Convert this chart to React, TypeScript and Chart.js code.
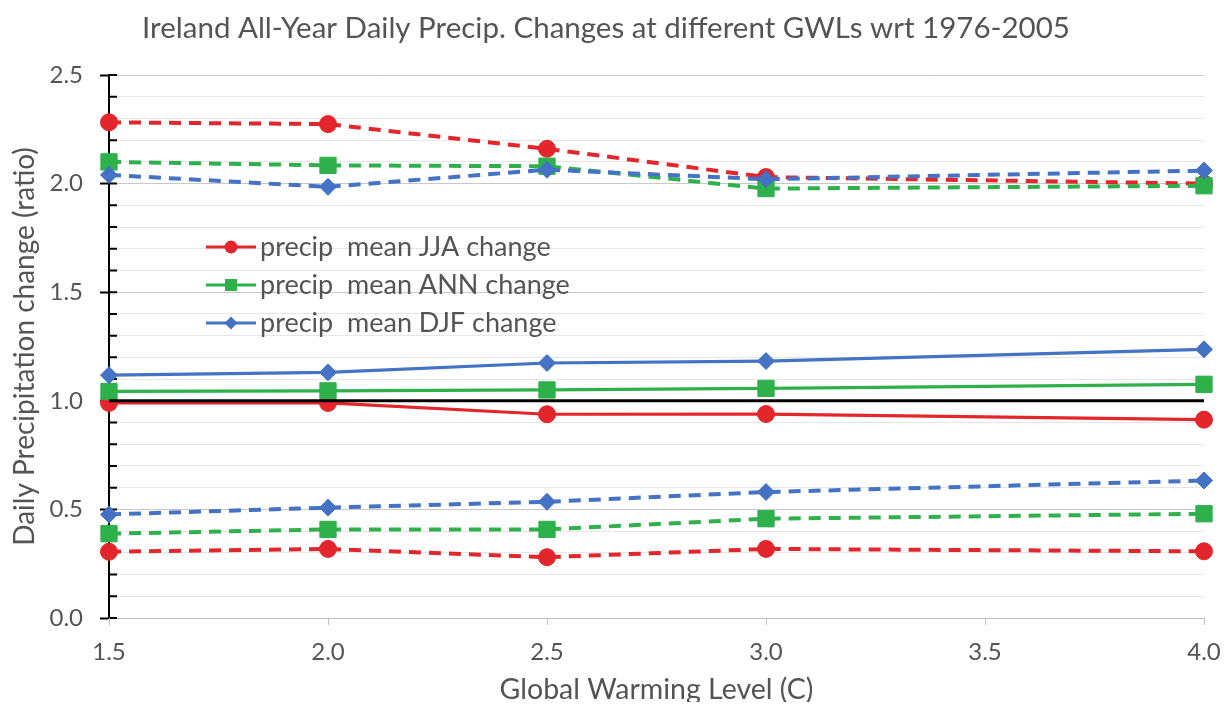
import React, { useEffect, useRef } from 'react';
import { Chart, registerables } from 'chart.js';
import { drawPoint } from 'chart.js/helpers';

Chart.register(...registerables);

// ---- data ----
const gwl = [1.5, 2.0, 2.5, 3.0, 4.0];
const jjaMean = [0.99, 0.99, 0.938, 0.939, 0.913];
const annMean = [1.043, 1.046, 1.05, 1.057, 1.076];
const djfMean = [1.118, 1.131, 1.174, 1.183, 1.237];
const jjaHigh = [2.282, 2.274, 2.16, 2.03, 2.0];
const annHigh = [2.1, 2.084, 2.08, 1.977, 1.99];
const djfHigh = [2.04, 1.985, 2.064, 2.02, 2.06];
const jjaLow = [0.305, 0.318, 0.28, 0.318, 0.307];
const annLow = [0.388, 0.408, 0.408, 0.457, 0.48];
const djfLow = [0.477, 0.508, 0.535, 0.58, 0.633];
const refX = [1.5, 4.0];
const refY = [1.0, 1.0];
const seriesLabels = ['precip  mean JJA change', 'precip  mean ANN change', 'precip  mean DJF change'];
const titleText = 'Ireland All-Year Daily Precip. Changes at different GWLs wrt 1976-2005';
const xTitle = 'Global Warming Level (C)';
const yTitle = 'Daily Precipitation change (ratio)';

const RED = '#E3262B';
const GREEN = '#2EB04B';
const BLUE = '#4472C4';
const TEXT = '#545454';
const FONT = 'Lato';

const isMajor = (v: number) => Math.abs(v * 2 - Math.round(v * 2)) < 1e-6;

const axisTicks = {
  id: 'axisTicks',
  beforeDatasetsDraw(chart: any) {
    const { ctx, chartArea } = chart;
    const ys = chart.scales.y;
    const xs = chart.scales.x;
    ctx.save();
    // inner minor/major ticks on the y axis
    ctx.strokeStyle = '#000';
    ctx.lineWidth = 2;
    ctx.beginPath();
    ys.ticks.forEach((t: any) => {
      const py = ys.getPixelForValue(t.value);
      ctx.moveTo(chartArea.left, py);
      ctx.lineTo(chartArea.left + 8, py);
    });
    ctx.stroke();
    // short grey ticks below the x axis
    ctx.strokeStyle = '#bfbfbf';
    ctx.lineWidth = 1;
    ctx.beginPath();
    xs.ticks.forEach((t: any) => {
      const px = Math.round(xs.getPixelForValue(t.value)) + 0.5;
      ctx.moveTo(px, chartArea.bottom);
      ctx.lineTo(px, chartArea.bottom + 7);
    });
    ctx.stroke();
    ctx.restore();
  },
};

let legendSets: any[] = [];

const insideLegend = {
  id: 'insideLegend',
  afterDraw(chart: any) {
    const { ctx, chartArea } = chart;
    ctx.save();
    legendSets.forEach((d: any, i: number) => {
      const y = chartArea.top + 172 + i * 38;
      const x0 = chartArea.left + 97;
      ctx.setLineDash([]);
      ctx.strokeStyle = d.borderColor;
      ctx.lineWidth = 3;
      ctx.beginPath();
      ctx.moveTo(x0, y);
      ctx.lineTo(x0 + 50, y);
      ctx.stroke();
      ctx.fillStyle = d.borderColor;
      drawPoint(ctx, { pointStyle: d.pointStyle, radius: d.legendRadius, borderWidth: 0, rotation: 0 } as any, x0 + 25, y);
      ctx.fillStyle = TEXT;
      ctx.font = `27px ${FONT}`;
      ctx.textBaseline = 'middle';
      ctx.textAlign = 'left';
      ctx.fillText(d.label, x0 + 54, y);
    });
    ctx.restore();
  },
};

export default function App() {
  const ref = useRef<HTMLCanvasElement>(null);
  useEffect(() => {
    const pts = (xs: number[], ys: number[]) => xs.map((x, i) => ({ x, y: ys[i] }));
    const mk = (label: string, ys: number[], color: string, style: string, radius: number, dashed: boolean, legendRadius: number) => ({
      label,
      data: pts(gwl, ys),
      borderColor: color,
      backgroundColor: color,
      borderWidth: dashed ? 4 : 3.2,
      borderDash: dashed ? [12, 8] : [],
      pointStyle: style,
      pointRadius: radius,
      pointBorderWidth: 1,
      pointBackgroundColor: color,
      pointBorderColor: color,
      tension: 0,
      fill: false,
      clip: false,
      legendRadius,
    });
    const djfM = mk(seriesLabels[2], djfMean, BLUE, 'rectRot', 8.5, false, 6.5);
    const annM = mk(seriesLabels[1], annMean, GREEN, 'rect', 11.5, false, 8.5);
    const jjaM = mk(seriesLabels[0], jjaMean, RED, 'circle', 8.5, false, 6.5);
    legendSets = [jjaM, annM, djfM];
    const datasets: any[] = [
      {
        label: 'ref',
        data: pts(refX, refY),
        borderColor: '#000',
        borderWidth: 3,
        pointRadius: 0,
        fill: false,
        clip: false,
      },
      mk('DJF high', djfHigh, BLUE, 'rectRot', 8.5, true, 6.5),
      mk('DJF low', djfLow, BLUE, 'rectRot', 8.5, true, 6.5),
      djfM,
      mk('ANN high', annHigh, GREEN, 'rect', 11.5, true, 8.5),
      mk('ANN low', annLow, GREEN, 'rect', 11.5, true, 8.5),
      annM,
      mk('JJA high', jjaHigh, RED, 'circle', 8.5, true, 6.5),
      mk('JJA low', jjaLow, RED, 'circle', 8.5, true, 6.5),
      jjaM,
    ];

    const chart = new Chart(ref.current!, {
      type: 'line',
      data: { datasets },
      options: {
        animation: false,
        responsive: true,
        maintainAspectRatio: false,
        layout: { padding: { left: 0, right: 19, top: 0, bottom: 0 } },
        plugins: {
          legend: { display: false },
          tooltip: { enabled: false },
          title: {
            display: true,
            text: titleText,
            color: TEXT,
            font: { family: FONT, size: 29.5, weight: 'normal' },
            padding: { top: 2.3, bottom: 29.3 },
          },
        },
        scales: {
          x: {
            type: 'linear',
            min: 1.5,
            max: 4.0,
            ticks: {
              stepSize: 0.5,
              color: TEXT,
              font: { family: FONT, size: 24 },
              padding: 0,
              maxRotation: 0,
              callback: (v: any) => Number(v).toFixed(1),
            },
            grid: { drawOnChartArea: false, tickLength: 20, color: 'rgba(0,0,0,0)', tickColor: 'rgba(0,0,0,0)' },
            border: { color: '#bfbfbf', width: 1 },
            title: {
              display: true,
              text: xTitle,
              color: TEXT,
              font: { family: FONT, size: 28.5 },
              padding: { top: 0, bottom: -4.5 },
            },
            afterFit: (s: any) => { s.height = 84; },
          },
          y: {
            type: 'linear',
            min: 0,
            max: 2.5,
            ticks: {
              stepSize: 0.1,
              autoSkip: false,
              color: TEXT,
              font: { family: FONT, size: 24 },
              padding: 17,
              callback: (v: any) => (isMajor(Number(v)) ? Number(v).toFixed(1) : ''),
            },
            grid: {
              color: (c: any) => (c.tick && isMajor(c.tick.value) ? '#c8c8c8' : '#e6e6e6'),
              tickColor: (c: any) => (c.tick && isMajor(c.tick.value) ? '#000' : 'rgba(0,0,0,0)'),
              tickLength: 9,
              lineWidth: 1,
              tickWidth: 2,
            },
            border: { color: '#000', width: 2 },
            title: {
              display: true,
              text: yTitle,
              color: TEXT,
              font: { family: FONT, size: 28 },
              padding: { top: 0, bottom: 0 },
            },
            afterFit: (s: any) => { s.width = 101; },
          },
        },
      } as any,
      plugins: [axisTicks, insideLegend],
    });
    return () => chart.destroy();
  }, []);

  return (
    <div style={{ position: 'relative', width: 1215, height: 694 }}>
      <canvas ref={ref} />
    </div>
  );
}
